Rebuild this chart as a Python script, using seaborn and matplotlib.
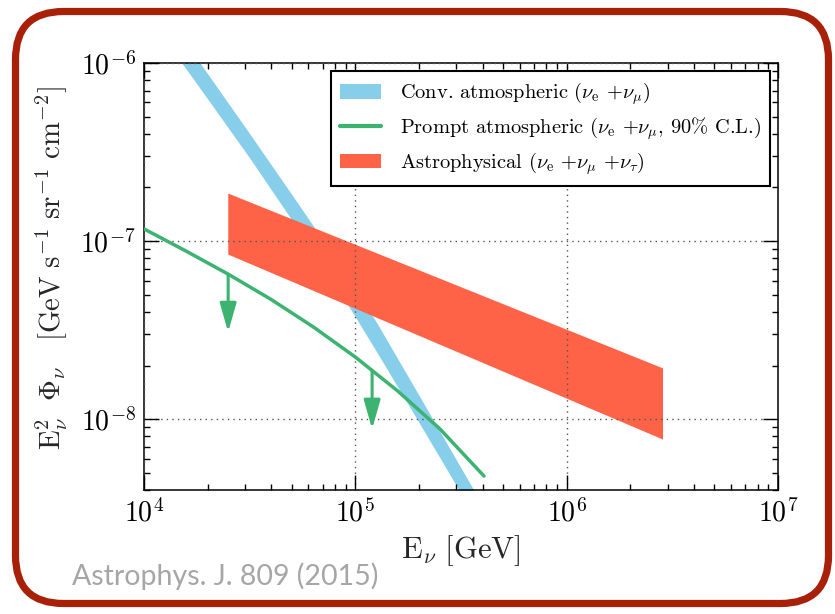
import matplotlib
matplotlib.use("Agg")
import matplotlib.pyplot as plt
import matplotlib.transforms as mtransforms
from matplotlib.patches import FancyBboxPatch, Patch
from matplotlib.lines import Line2D
import seaborn as sns

# ---------------- data ----------------
conv_E = [1.26e4, 2.0e4, 3.16e4, 5.01e4, 7.94e4, 1.26e5, 2.0e5, 3.16e5, 5.01e5]
conv_low = [1.35e-6, 6.28e-7, 2.93e-7, 1.31e-7, 5.86e-8, 2.39e-8, 9.57e-9, 3.83e-9, 1.53e-9]
conv_high = [1.89e-6, 8.69e-7, 4.01e-7, 1.82e-7, 8.20e-8, 3.49e-8, 1.36e-8, 5.32e-9, 2.07e-9]

prompt_E = [1.0e4, 1.585e4, 2.512e4, 3.981e4, 6.31e4, 1.0e5, 1.585e5, 2.512e5, 4.06e5]
prompt_flux = [1.17e-7, 8.77e-8, 6.50e-8, 4.71e-8, 3.30e-8, 2.23e-8, 1.44e-8, 8.81e-9, 4.79e-9]

arrow_E = [2.5e4, 1.2e5]
arrow_from = [6.5e-8, 1.87e-8]
arrow_to = [3.08e-8, 8.8e-9]

astro_E = [2.49e4, 2.84e6]
astro_low = [8.45e-8, 7.73e-9]
astro_high = [1.86e-7, 1.94e-8]

x_ticks = [1e4, 1e5, 1e6, 1e7]
y_ticks = [1e-8, 1e-7, 1e-6]

legend_labels = [
    r"Conv. atmospheric ($\nu_{\rm e}$ +$\nu_\mu$)",
    r"Prompt atmospheric ($\nu_{\rm e}$ +$\nu_\mu$, 90% C.L.)",
    r"Astrophysical ($\nu_{\rm e}$ +$\nu_\mu$ +$\nu_\tau$)",
]
citation = "Astrophys. J. 809 (2015)"

C_CONV = "#87CEEB"
C_PROMPT = "#3CB371"
C_ASTRO = "#FF6347"
C_BORDER = "#A82008"

# ---------------- style ----------------
sns.set_style("ticks")
plt.rcParams.update({
    "font.family": "serif",
    "font.serif": ["cmr10"],
    "mathtext.fontset": "cm",
    "axes.formatter.use_mathtext": True,
    "axes.unicode_minus": False,
    "axes.edgecolor": "black",
    "axes.linewidth": 1.1,
    "xtick.color": "black",
    "ytick.color": "black",
    "text.color": "black",
})

fig = plt.figure(figsize=(8.35, 6.14), dpi=100)
ax = fig.add_axes([0.1725, 0.202, 0.7593, 0.6954])
ax.set_xscale("log")
ax.set_yscale("log")

ax.fill_between(conv_E, conv_low, conv_high, color=C_CONV, lw=0, zorder=1)
ax.fill_between(astro_E, astro_low, astro_high, color=C_ASTRO, lw=0, zorder=1.2)
sns.lineplot(x=prompt_E, y=prompt_flux, ax=ax, color=C_PROMPT, lw=2.5,
             zorder=3, sort=True, legend=False)
for e, f0, f1 in zip(arrow_E, arrow_from, arrow_to):
    ax.annotate("", xy=(e, f1), xytext=(e, f0),
                arrowprops=dict(arrowstyle="-|>,head_length=1.75,head_width=0.5",
                                mutation_scale=10, color=C_PROMPT, lw=2.2,
                                shrinkA=0, shrinkB=0), zorder=3)

ax.set_xlim(1e4, 1e7)
ax.set_ylim(4e-9, 1e-6)
ax.set_xticks(x_ticks)
ax.set_yticks(y_ticks)
ax.grid(True, which="major", ls=(0, (1, 3)), color="#555555", lw=1.0)
ax.set_axisbelow(False)
ax.tick_params(which="both", direction="in", top=True, right=True, width=1.0)
ax.tick_params(which="major", length=10.5, labelsize=20, pad=6)
ax.tick_params(which="minor", length=4.5)
for s in ax.spines.values():
    s.set_linewidth(1.1)

ax.set_xlabel(r"$\mathrm{E}_\nu\ [\mathrm{GeV}]$", fontsize=22, labelpad=4)
ax.set_ylabel(r"$\mathrm{E}_\nu^2\ \ \Phi_\nu\ \ \ [\mathrm{GeV\ s^{-1}\ sr^{-1}\ cm^{-2}}]$",
              fontsize=20.8)
ax.yaxis.set_label_coords(-0.117, 0.52)

handles = [
    Patch(facecolor=C_CONV, edgecolor="none"),
    Line2D([], [], color=C_PROMPT, lw=3),
    Patch(facecolor=C_ASTRO, edgecolor="none"),
]
leg = ax.legend(handles, legend_labels, loc="upper right", fontsize=14.7,
                frameon=True, fancybox=False, framealpha=1, edgecolor="black",
                borderaxespad=0.4, labelspacing=0.4, handlelength=2.0,
                handletextpad=0.9, borderpad=0.45)
leg.get_frame().set_linewidth(1.5)

fig.text(72 / 835, 1 - 585 / 614, citation, fontsize=20.5, family="Lato",
         color="#A6A6A6", va="baseline", ha="left")

border = FancyBboxPatch((15.5, 10.5), 813, 592,
                        boxstyle="round,pad=0,rounding_size=48",
                        transform=mtransforms.IdentityTransform(),
                        fc="none", ec=C_BORDER, lw=5.2)
fig.add_artist(border)

fig.savefig("out.png", dpi=100, facecolor="white")
